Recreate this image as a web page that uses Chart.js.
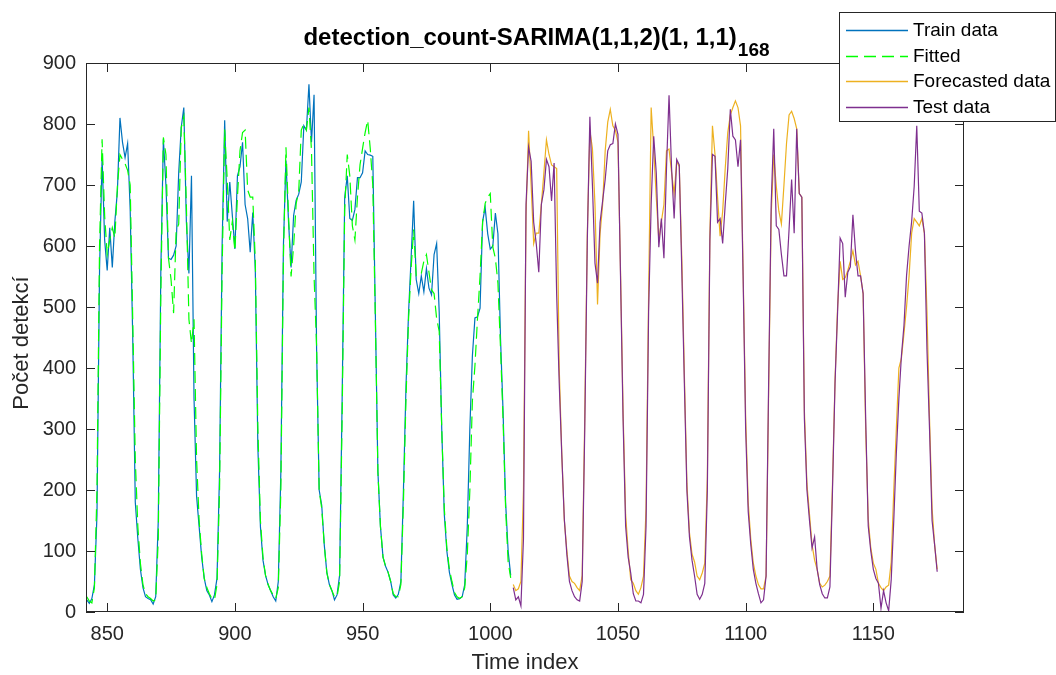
<!DOCTYPE html>
<html>
<head>
<meta charset="utf-8">
<script src="https://cdn.jsdelivr.net/npm/chart.js@4.4.1/dist/chart.umd.min.js"></script>
<style>
html,body{margin:0;padding:0;background:#fff;}
#c{display:block;}
</style>
</head>
<body>
<canvas id="c" width="1056" height="675"></canvas>
<script>
// ---------------- DATA ----------------
const titleMain = "detection_count-SARIMA(1,1,2)(1, 1,1)";
const titleSub = "168";
const xAxisTitle = "Time index";
const yAxisTitle = "Počet detekcí";
const legendLabels = ["Train data", "Fitted", "Forecasted data", "Test data"];
const xTicks = [850, 900, 950, 1000, 1050, 1100, 1150];
const yTicks = [0, 100, 200, 300, 400, 500, 600, 700, 800, 900];

const trainStart = 842;
const trainValues = [
 20,14,22,45,160,560,745,610,560,630,565,640,690,810,770,745,768,660,450,180,
 120,70,40,25,22,20,13,25,150,560,775,700,580,578,585,600,720,795,827,640,
 555,715,350,190,140,90,55,35,28,17,28,55,230,600,806,640,705,650,595,715,
 730,770,668,645,590,655,560,270,140,85,60,45,35,25,18,50,230,600,740,640,
 565,650,675,685,705,797,790,865,770,848,430,200,175,110,65,45,35,20,28,60,
 350,680,715,645,642,660,712,712,720,756,750,749,747,490,230,140,90,75,65,50,
 28,23,29,50,200,370,490,580,674,545,522,551,525,563,531,520,586,604,492,300,
 160,100,65,45,28,21,22,25,45,140,300,420,482,484,498,640,663,620,595,600,
 654,620,450,330,180,100,60
];
const fittedValues = [
 25,18,15,40,200,600,775,650,586,610,630,613,698,750,742,735,724,700,480,250,
 140,80,45,30,25,22,18,20,120,520,778,750,580,545,490,625,636,794,812,668,
 480,440,480,250,150,95,55,40,30,22,20,45,200,560,791,709,610,640,592,680,
 756,786,790,692,680,680,575,300,150,90,60,45,35,28,22,40,200,580,762,650,
 550,600,670,690,790,800,790,827,756,551,434,199,170,110,65,45,35,25,25,50,
 320,660,750,715,633,610,680,733,760,786,806,760,700,480,230,140,90,75,65,50,
 30,25,25,45,180,350,480,563,627,551,551,555,575,586,557,528,522,481,460,300,
 170,105,70,50,32,25,22,25,40,94,199,346,404,481,551,639,670,680,686,598,
 580,539,434,317,170,82,56
];
const testStart = 1009;
const testValues = [
 40,20,25,10,120,668,762,739,639,604,557,668,692,742,730,674,736,520,375,258,
 152,94,50,35,25,20,18,50,300,610,812,700,572,539,639,674,709,756,766,768,
 800,783,551,317,141,90,64,30,18,18,15,29,141,492,668,780,720,598,645,580,
 727,847,727,645,742,733,560,375,199,123,85,59,29,21,29,47,199,610,750,747,
 639,645,604,668,727,824,780,774,730,774,551,300,165,111,70,47,30,15,20,59,
 375,668,792,633,627,586,551,551,627,709,621,792,686,680,317,200,150,105,123,70,
 45,30,23,23,41,199,375,492,613,604,516,557,566,651,592,551,551,522,317,141,
 100,70,55,47,6,35,15,2,53,150,260,350,420,470,551,600,640,698,797,657,
 654,621,430,300,150,110,66
];
const forecastValues = [
 45,35,38,50,200,650,789,700,604,621,621,668,720,774,750,733,730,727,400,260,
 150,100,59,50,47,40,35,60,320,620,789,760,668,504,620,668,756,803,824,797,
 790,770,560,330,160,100,53,47,35,29,40,59,170,520,827,760,680,610,640,668,
 756,759,720,686,739,730,580,390,210,130,95,82,59,53,64,80,220,620,797,750,
 680,616,657,727,786,815,827,838,827,797,560,320,180,120,80,59,45,38,38,59,
 360,650,750,698,657,636,700,768,815,821,809,792,686,680,330,210,160,110,85,70,
 47,41,44,50,59,210,380,500,575,545,548,560,575,592,569,575,551,522,300,152,
 105,80,70,47,40,35,41,44,82,199,300,400,416,457,500,551,621,645,639,633,
 645,621,492,317,170,110,70
];
const xMin = 841.7, xMax = 1185.5;
const yMin = 0, yMax = 900;

// ---------------- STYLE ----------------
const FONT = "'Liberation Sans', Arial, Helvetica, sans-serif";
const AXIS = "#262626";
const colors = ["#0072BD", "#00FF00", "#EDB120", "#7E2F8E"];
const dashes = [[], [12, 6], [], []];

function toXY(start, arr) { return arr.map((v, i) => ({ x: start + i, y: v })); }

const datasets = [
  { label: legendLabels[0], data: toXY(trainStart, trainValues), borderColor: colors[0], borderDash: dashes[0], order: 4 },
  { label: legendLabels[1], data: toXY(trainStart, fittedValues), borderColor: colors[1], borderDash: dashes[1], order: 3 },
  { label: legendLabels[2], data: toXY(testStart, forecastValues), borderColor: colors[2], borderDash: dashes[2], order: 2 },
  { label: legendLabels[3], data: toXY(testStart, testValues), borderColor: colors[3], borderDash: dashes[3], order: 1 }
].map(d => Object.assign(d, { borderWidth: 1.2, pointRadius: 0, tension: 0, fill: false }));

const decor = {
  id: 'decor',
  afterDraw(chart) {
    const ctx = chart.ctx;
    const a = chart.chartArea;
    const xs = chart.scales.x, ys = chart.scales.y;
    ctx.save();
    // box
    ctx.strokeStyle = AXIS; ctx.lineWidth = 1;
    ctx.strokeRect(Math.round(a.left) + 0.5, Math.round(a.top) + 0.5, Math.round(a.right - a.left) - 1, Math.round(a.bottom - a.top) - 1);
    // inward ticks on all four sides
    const tl = 9;
    ctx.beginPath();
    xTicks.forEach(v => {
      const px = Math.round(xs.getPixelForValue(v)) + 0.5;
      ctx.moveTo(px, a.bottom); ctx.lineTo(px, a.bottom - tl);
      ctx.moveTo(px, a.top); ctx.lineTo(px, a.top + tl);
    });
    yTicks.forEach(v => {
      const py = Math.round(ys.getPixelForValue(v)) + 0.5;
      ctx.moveTo(a.left, py); ctx.lineTo(a.left + tl, py);
      ctx.moveTo(a.right, py); ctx.lineTo(a.right - tl, py);
    });
    ctx.stroke();

    // axis titles
    ctx.fillStyle = AXIS;
    ctx.font = "22px " + FONT;
    ctx.textAlign = 'center'; ctx.textBaseline = 'middle';
    ctx.fillText(xAxisTitle, (a.left + a.right) / 2, 663);
    ctx.save();
    ctx.translate(22, 343);
    ctx.rotate(-Math.PI / 2);
    ctx.fillText(yAxisTitle, 0, 0);
    ctx.restore();

    // title with subscript
    ctx.fillStyle = "#000";
    ctx.textAlign = 'left'; ctx.textBaseline = 'alphabetic';
    const mainFont = "bold 24px " + FONT, subFont = "bold 19px " + FONT;
    ctx.font = mainFont; const w1 = ctx.measureText(titleMain).width;
    ctx.font = subFont; const w2 = ctx.measureText(titleSub).width;
    const x0 = 536 - (w1 + w2) / 2;
    ctx.font = mainFont; ctx.fillText(titleMain, x0, 45);
    ctx.font = subFont; ctx.fillText(titleSub, x0 + w1 + 1, 56);

    // legend
    const lx = 839.5, ly = 12.5, lw = 216, lh = 109;
    ctx.fillStyle = "#fff";
    ctx.fillRect(lx, ly, lw, lh);
    ctx.strokeStyle = AXIS; ctx.lineWidth = 1;
    ctx.strokeRect(lx, ly, lw, lh);
    ctx.font = "19px " + FONT;
    ctx.textBaseline = 'middle';
    legendLabels.forEach((lab, i) => {
      const cy = 30 + 25.6 * i;
      ctx.strokeStyle = colors[i]; ctx.lineWidth = 1.5;
      ctx.setLineDash(dashes[i]);
      ctx.beginPath(); ctx.moveTo(846, Math.round(cy) + 0.5); ctx.lineTo(908, Math.round(cy) + 0.5); ctx.stroke();
      ctx.setLineDash([]);
      ctx.fillStyle = "#000";
      ctx.fillText(lab, 913, cy + 1);
    });
    ctx.restore();
  }
};

new Chart(document.getElementById('c'), {
  type: 'line',
  data: { datasets },
  options: {
    responsive: false,
    animation: false,
    devicePixelRatio: 1,
    layout: { padding: { left: 0, right: 92, top: 63, bottom: 0 } },
    scales: {
      x: {
        type: 'linear', min: xMin, max: xMax,
        afterBuildTicks: s => { s.ticks = xTicks.map(v => ({ value: v })); },
        afterFit: s => { s.height = 63; },
        grid: { display: false, drawTicks: false },
        border: { display: false },
        ticks: { color: AXIS, font: { family: FONT, size: 20 }, padding: 10, maxRotation: 0, autoSkip: false, callback: v => String(v) }
      },
      y: {
        type: 'linear', min: yMin, max: yMax,
        afterBuildTicks: s => { s.ticks = yTicks.map(v => ({ value: v })); },
        afterFit: s => { s.width = 86; },
        grid: { display: false, drawTicks: false },
        border: { display: false },
        ticks: { color: AXIS, font: { family: FONT, size: 20 }, padding: 10, autoSkip: false, callback: v => String(v) }
      }
    },
    plugins: { legend: { display: false }, title: { display: false }, tooltip: { enabled: false } }
  },
  plugins: [decor]
});
</script>
</body>
</html>
